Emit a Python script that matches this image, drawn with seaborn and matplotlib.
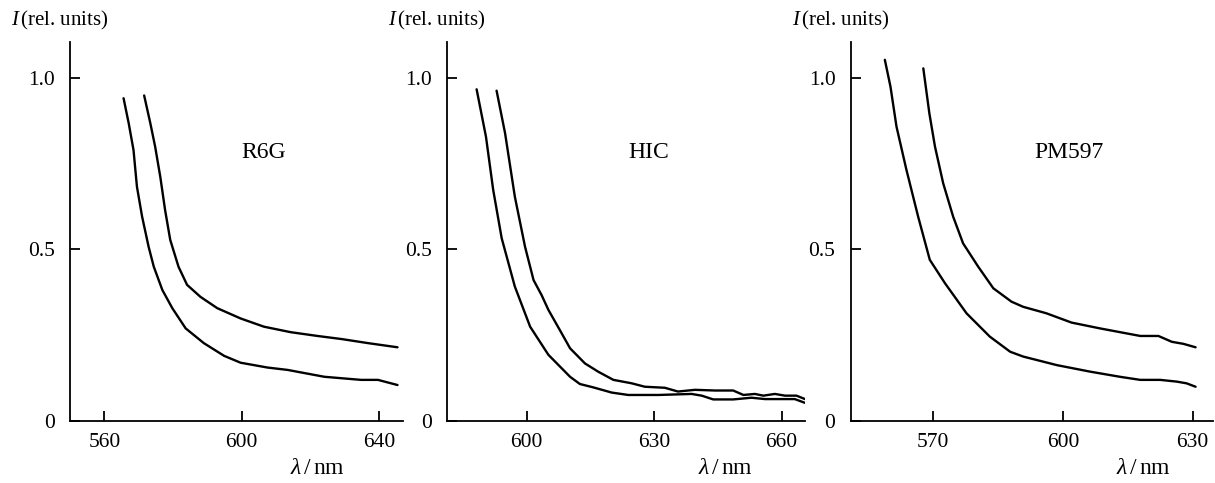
import numpy as np
import pandas as pd
import matplotlib
matplotlib.use("Agg")
import matplotlib.pyplot as plt
import seaborn as sns

# ---------------- data ----------------
r6g_upper_x = [571.6, 573.4, 574.8, 576.3, 577.7, 579.2, 581.6, 584.1, 588.0, 592.9,
               599.7, 606.5, 614.3, 622.1, 629.1, 636.9, 645.4]
r6g_upper_y = [0.948, 0.867, 0.799, 0.711, 0.614, 0.527, 0.449, 0.396, 0.361, 0.328,
               0.298, 0.274, 0.258, 0.247, 0.238, 0.226, 0.214]
r6g_lower_x = [565.6, 567.1, 568.5, 569.5, 571.0, 572.9, 574.4, 576.9, 579.8, 583.7,
               589.0, 594.9, 599.7, 607.5, 613.4, 624.1, 634.8, 639.7, 645.4]
r6g_lower_y = [0.940, 0.867, 0.789, 0.682, 0.595, 0.507, 0.449, 0.381, 0.328, 0.269,
               0.226, 0.189, 0.169, 0.155, 0.148, 0.128, 0.119, 0.119, 0.104]

hic_upper_x = [592.9, 594.9, 597.2, 599.6, 601.6, 603.5, 605.1, 607.8, 610.2, 613.7,
               616.8, 620.4, 624.7, 627.8, 632.5, 635.6, 639.6, 644.3, 648.6, 651.0,
               653.7, 655.7, 658.4, 660.8, 663.5, 665.5]
hic_upper_y = [0.962, 0.838, 0.653, 0.507, 0.410, 0.366, 0.323, 0.264, 0.211, 0.167,
               0.143, 0.119, 0.109, 0.099, 0.096, 0.085, 0.090, 0.088, 0.088, 0.075,
               0.078, 0.073, 0.078, 0.073, 0.073, 0.063]
hic_lower_x = [588.2, 590.4, 592.1, 594.1, 597.2, 600.8, 605.1, 610.2, 612.5, 615.7,
               620.0, 623.9, 631.0, 638.8, 641.2, 643.9, 648.6, 652.9, 656.1, 663.1, 665.5]
hic_lower_y = [0.966, 0.828, 0.673, 0.532, 0.391, 0.274, 0.192, 0.128, 0.107, 0.097,
               0.082, 0.075, 0.075, 0.078, 0.073, 0.062, 0.062, 0.067, 0.063, 0.063, 0.052]

pm_upper_x = [567.7, 569.1, 570.4, 572.3, 574.6, 576.9, 580.4, 583.9, 588.1, 590.8,
              596.2, 602.0, 608.6, 617.9, 622.1, 625.2, 627.9, 630.7]
pm_upper_y = [1.027, 0.896, 0.799, 0.692, 0.595, 0.517, 0.449, 0.386, 0.347, 0.332,
              0.313, 0.286, 0.269, 0.247, 0.247, 0.230, 0.224, 0.214]
pm_lower_x = [558.8, 560.1, 561.5, 563.8, 566.5, 569.2, 572.7, 577.7, 583.1, 587.8,
              590.8, 598.6, 606.3, 613.2, 617.9, 622.5, 626.3, 628.6, 630.7]
pm_lower_y = [1.052, 0.974, 0.857, 0.731, 0.595, 0.469, 0.401, 0.313, 0.245, 0.201,
              0.187, 0.162, 0.143, 0.128, 0.119, 0.119, 0.114, 0.109, 0.099]

dye_names = ["R6G", "HIC", "PM597"]
x_limits = [(550.0, 647.0), (581.3, 665.5), (550.9, 634.8)]
x_ticks = [[560, 600, 640], [600, 630, 660], [570, 600, 630]]
y_ticks = [0, 0.5, 1.0]
y_tick_labels = ["0", "0.5", "1.0"]
name_pos = [(606.4, 0.783), (628.6, 0.783), (601.3, 0.783)]

curves = [
    [(r6g_upper_x, r6g_upper_y), (r6g_lower_x, r6g_lower_y)],
    [(hic_upper_x, hic_upper_y), (hic_lower_x, hic_lower_y)],
    [(pm_upper_x, pm_upper_y), (pm_lower_x, pm_lower_y)],
]

# ---------------- style ----------------
sns.set_theme(style="ticks")
plt.rcParams["font.family"] = ["Liberation Serif", "DejaVu Serif"]
plt.rcParams["mathtext.fontset"] = "custom"
plt.rcParams["mathtext.rm"] = "Liberation Serif"
plt.rcParams["mathtext.it"] = "Liberation Serif:italic"
plt.rcParams["axes.linewidth"] = 1.3
for key in ["text.color", "axes.labelcolor", "xtick.color", "ytick.color",
            "axes.edgecolor", "xtick.labelcolor", "ytick.labelcolor"]:
    plt.rcParams[key] = "black"

fig = plt.figure(figsize=(12.15, 4.83), dpi=100)
W, H = 1215.0, 483.0
ax_px = [(70, 403), (447.3, 805), (850.7, 1213.3)]
bottom_px, top_px = 420.7, 42.3

for i in range(3):
    l, r = ax_px[i]
    ax = fig.add_axes([l / W, 1 - bottom_px / H, (r - l) / W, (bottom_px - top_px) / H])
    frames = []
    for k, (xs, ys) in enumerate(curves[i]):
        frames.append(pd.DataFrame({"x": xs, "y": ys, "curve": k}))
    df = pd.concat(frames, ignore_index=True)
    sns.lineplot(data=df, x="x", y="y", units="curve", estimator=None,
                 color="black", linewidth=1.7, sort=False, ax=ax, legend=False)
    ax.set_xlim(*x_limits[i])
    ax.set_ylim(0, 1.103)
    ax.set_xticks(x_ticks[i])
    ax.set_xticklabels([str(t) for t in x_ticks[i]])
    ax.set_yticks(y_ticks)
    ax.set_yticklabels(y_tick_labels)
    ax.tick_params(direction="in", length=7, width=1.3, labelsize=15.5,
                   colors="black", labelcolor="black")
    ax.tick_params(axis="y", pad=11)
    ax.tick_params(axis="x", pad=9)
    sns.despine(ax=ax)
    ax.set_xlabel("")
    ax.set_ylabel("")
    ax.text(name_pos[i][0], name_pos[i][1], dye_names[i], ha="center", va="center",
            fontsize=17, color="black")
    # axis titles
    ax.text(-59.0 / (r - l), (bottom_px - 20) / (bottom_px - top_px),
            r"$I\,$(rel. units)", transform=ax.transAxes, ha="left", va="center",
            fontsize=15, color="black")
    lab_cx = [317, 725, 1143][i]
    ax.text((lab_cx - l) / (r - l), (bottom_px - 469) / (bottom_px - top_px),
            r"$\lambda\,$/$\,$nm", transform=ax.transAxes, ha="center", va="center",
            fontsize=17, color="black")

fig.savefig("out.png", dpi=100, facecolor="white")
